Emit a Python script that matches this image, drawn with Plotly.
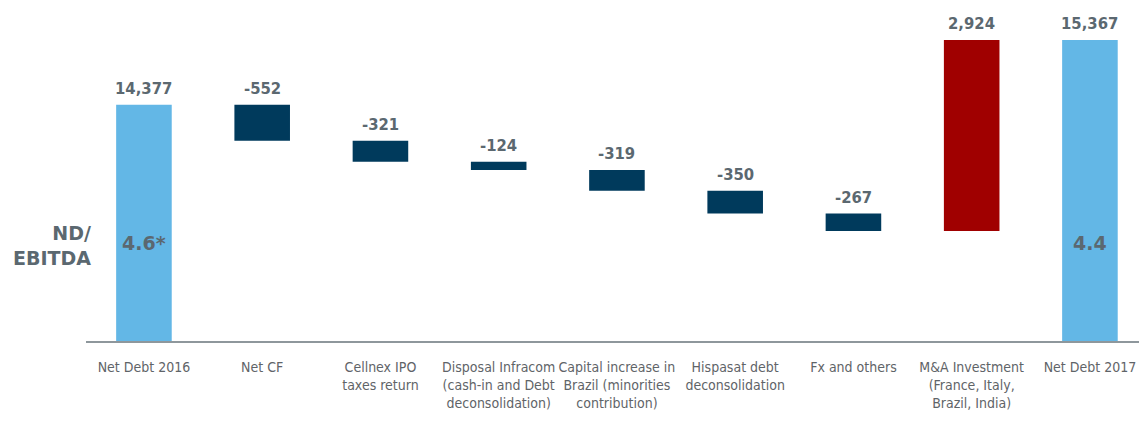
import plotly.graph_objects as go

# Net debt bridge 2016 -> 2017 (EUR m)
categories = [
    "Net Debt 2016",
    "Net CF",
    "Cellnex IPO<br>taxes return",
    "Disposal Infracom<br>(cash-in and Debt<br>deconsolidation)",
    "Capital increase in<br>Brazil (minorities<br>contribution)",
    "Hispasat debt<br>deconsolidation",
    "Fx and others",
    "M&A Investment<br>(France, Italy,<br>Brazil, India)",
    "Net Debt 2017",
]
values = [14377, -552, -321, -124, -319, -350, -267, 2924, 15367]
measures = ["absolute", "relative", "relative", "relative", "relative",
            "relative", "relative", "relative", "absolute"]
ratio_labels = {0: "4.6*", 8: "4.4"}

TOTAL_BLUE = "#63b7e6"
DECREASE_NAVY = "#003a5c"
INCREASE_RED = "#a00000"
TEXT_GREY = "#5b6870"
LABEL_GREY = "#5f6468"

x = list(range(len(categories)))

fig = go.Figure(go.Waterfall(
    x=x,
    y=values,
    measure=measures,
    width=0.47,
    connector=dict(visible=False),
    totals=dict(marker=dict(color=TOTAL_BLUE)),
    decreasing=dict(marker=dict(color=DECREASE_NAVY)),
    increasing=dict(marker=dict(color=INCREASE_RED)),
    hoverinfo="skip",
))

# value labels sit on top of each bar
running = 0
for i, (v, m) in enumerate(zip(values, measures)):
    if m == "absolute":
        top = v
        running = v
    else:
        top = max(running, running + v)
        running += v
    fig.add_annotation(
        x=i, y=top, xref="x", yref="y",
        text=f"{v:,}", showarrow=False,
        yanchor="bottom", yshift=5,
        font=dict(family="DejaVu Sans Condensed, Liberation Sans Narrow, Arial Narrow, sans-serif",
                  size=16.5, color=TEXT_GREY, weight="bold"),
    )

for i, txt in ratio_labels.items():
    fig.add_annotation(
        x=i, y=0.314, xref="x", yref="paper",
        text=txt, showarrow=False, yanchor="middle",
        font=dict(family="DejaVu Sans, Verdana, sans-serif", size=19,
                  color=TEXT_GREY, weight="bold"),
    )

fig.add_annotation(
    x=0.0066, y=0.308, xref="paper", yref="paper",
    text="ND/<br>EBITDA", showarrow=False,
    xanchor="right", yanchor="middle", align="right",
    font=dict(family="DejaVu Sans, Verdana, sans-serif", size=19,
              color=TEXT_GREY, weight="bold"),
)

fig.update_layout(
    width=1139, height=422,
    margin=dict(l=86, r=0, t=30, b=81, autoexpand=False),
    paper_bgcolor="white", plot_bgcolor="white",
    showlegend=False,
    xaxis=dict(
        tickmode="array", tickvals=x, ticktext=categories,
        range=[-0.49, 8.415],
        showline=True, linecolor="#8e979c", linewidth=1.5,
        showgrid=False, zeroline=False, ticks="",
        tickangle=0, automargin=False,
        ticklabelstandoff=12,
        tickfont=dict(family="DejaVu Sans Condensed, Liberation Sans Narrow, Arial Narrow, sans-serif",
                      size=14, color=LABEL_GREY),
    ),
    yaxis=dict(
        range=[10762, 15520],
        visible=False, showgrid=False, zeroline=False,
    ),
)

fig.write_html("out.html")
